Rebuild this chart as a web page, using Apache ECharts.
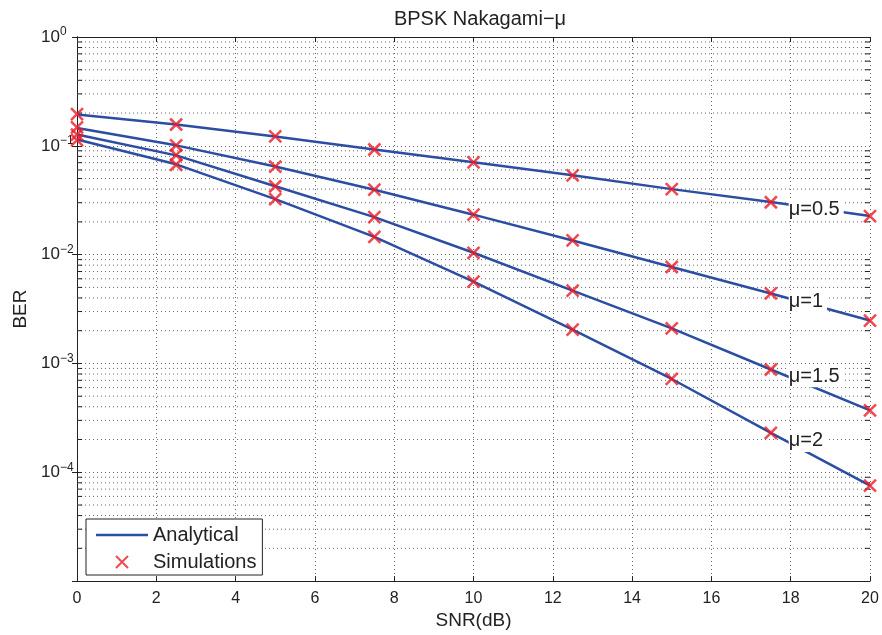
<!DOCTYPE html>
<html>
<head>
<meta charset="utf-8">
<script src="https://cdn.jsdelivr.net/npm/echarts@6/dist/echarts.min.js"></script>
<style>
  html, body { margin: 0; padding: 0; background: #fff; }
  #chart { width: 882px; height: 635px; }
</style>
</head>
<body>
<div id="chart"></div>
<script>
  // SNR points (dB)
  var snr = [0, 2.5, 5, 7.5, 10, 12.5, 15, 17.5, 20]

  // analytical BER curves
  var anaMu05 = [0.194, 0.157, 0.122, 0.0927, 0.0705, 0.0536, 0.0400, 0.0304, 0.0226]
  var anaMu1 = [0.146, 0.101, 0.0645, 0.0395, 0.0233, 0.0135, 0.0077, 0.0044, 0.00248]
  var anaMu15 = [0.127, 0.0817, 0.0425, 0.0221, 0.0104, 0.00467, 0.0021, 0.00088, 0.00037]
  var anaMu2 = [0.1145, 0.0676, 0.0324, 0.01455, 0.00564, 0.00205, 0.00072, 0.00023, 0.0000755]

  // simulated BER points
  var simMu05 = [0.196, 0.157, 0.122, 0.0925, 0.0705, 0.0535, 0.0400, 0.0303, 0.0226]
  var simMu1 = [0.148, 0.101, 0.0645, 0.0395, 0.0233, 0.0135, 0.0077, 0.0044, 0.00248]
  var simMu15 = [0.127, 0.0820, 0.0425, 0.0221, 0.0104, 0.00467, 0.0021, 0.00088, 0.00037]
  var simMu2 = [0.113, 0.0670, 0.0324, 0.01455, 0.00564, 0.00205, 0.00072, 0.00023, 0.0000755]

  var curveLabels = ['μ=0.5', 'μ=1', 'μ=1.5', 'μ=2']
  var labelPos = [[17.95, 0.0258], [17.95, 0.0037], [17.95, 0.000764], [17.95, 0.000194]]

  var decades = [0.00001, 0.0001, 0.001, 0.01, 0.1]
  var minorSteps = [2, 3, 4, 5, 6, 7, 8, 9]

  var blue = '#2c4ea2'
  var red = '#ee1c25'
  var txt = '#222'
  var font = '"Liberation Sans", Arial, sans-serif'

  var myChart = echarts.init(document.getElementById('chart'))

  function pairs(ys) {
    return snr.map(function(x, i) { return [x, ys[i]] })
  }

  // minor log grid + minor ticks on both sides (broken line series)
  var minorVals = []
  decades.forEach(function(d) {
    minorSteps.forEach(function(m) { minorVals.push(m * d) })
  })
  var gridData = []
  var tickData = []
  minorVals.forEach(function(v) {
    gridData.push([0, v], [20, v], '-')
    tickData.push([0, v], [0.13, v], '-', [19.87, v], [20, v], '-')
  })

  var anaData = [anaMu05, anaMu1, anaMu15, anaMu2]
  var simData = [simMu05, simMu1, simMu15, simMu2]

  var series = []
  series.push({
    type: 'line',
    data: gridData,
    silent: true,
    symbol: 'none',
    z: 1,
    connectNulls: false,
    lineStyle: { color: '#666', width: 1, type: [1, 3] }
  })
  series.push({
    type: 'line',
    data: tickData,
    silent: true,
    symbol: 'none',
    z: 1,
    connectNulls: false,
    lineStyle: { color: '#222', width: 1 }
  })

  anaData.forEach(function(d, i) {
    series.push({
      name: 'Analytical',
      type: 'line',
      symbol: 'none',
      z: 2,
      data: pairs(d),
      lineStyle: { color: blue, width: 2.5 },
      itemStyle: { color: blue },
      markPoint: {
        symbol: 'rect',
        symbolSize: 1,
        z: 6,
        itemStyle: { color: 'rgba(0,0,0,0)' },
        animation: false,
        label: {
          show: true,
          position: 'inside',
          align: 'left',
          verticalAlign: 'middle',
          formatter: curveLabels[i],
          fontFamily: font,
          fontSize: 20,
          color: txt,
          backgroundColor: '#fff',
          padding: [1, 4, 1, 0]
        },
        data: [{ coord: labelPos[i] }]
      }
    })
  })

  simData.forEach(function(d) {
    series.push({
      name: 'Simulations',
      type: 'scatter',
      symbol: 'path://M0,0L10,10M10,0L0,10',
      symbolSize: 12,
      z: 3,
      data: pairs(d),
      itemStyle: { color: 'rgba(0,0,0,0)', borderColor: red, borderWidth: 2.5 }
    })
  })

  var option = {
    animation: false,
    backgroundColor: '#fff',
    title: {
      text: 'BPSK Nakagami−μ',
      left: 475,
      textAlign: 'center',
      top: 4,
      textStyle: { fontFamily: font, fontSize: 20, fontWeight: 'normal', color: txt }
    },
    legend: {
      orient: 'vertical',
      left: 86,
      top: 519,
      data: [
        { name: 'Analytical', icon: 'path://M0,0L52,0L52,2.5L0,2.5Z', itemStyle: { color: blue } },
        { name: 'Simulations' }
      ],
      backgroundColor: '#fff',
      borderColor: '#222',
      borderWidth: 1,
      borderRadius: 0,
      padding: [5, 6, 2, 10],
      itemWidth: 52,
      itemHeight: 12,
      itemGap: 5,
      textStyle: { fontFamily: font, fontSize: 20, lineHeight: 22, color: txt }
    },
    grid: {
      left: 77,
      right: 12,
      top: 37,
      bottom: 51
    },
    xAxis: [{
      type: 'value',
      min: 0,
      max: 20,
      interval: 2,
      name: 'SNR(dB)',
      nameLocation: 'middle',
      nameGap: 28,
      nameTextStyle: { fontFamily: font, fontSize: 19, color: txt },
      axisLine: { lineStyle: { color: '#222', width: 1 } },
      axisTick: { inside: true, length: 5, lineStyle: { color: '#222' } },
      axisLabel: { margin: 9, fontFamily: font, fontSize: 16, color: txt },
      splitLine: { show: true, lineStyle: { color: '#666', width: 1, type: [1, 3] } }
    }, {
      type: 'value',
      position: 'top',
      min: 0,
      max: 20,
      interval: 2,
      axisLine: { lineStyle: { color: '#222', width: 1 } },
      axisTick: { inside: true, length: 5, lineStyle: { color: '#222' } },
      axisLabel: { show: false },
      splitLine: { show: false }
    }],
    yAxis: [{
      type: 'log',
      logBase: 10,
      min: 0.00001,
      max: 1,
      name: 'BER',
      nameLocation: 'middle',
      nameGap: 46,
      nameTextStyle: { fontFamily: font, fontSize: 19, color: txt },
      axisLine: { lineStyle: { color: '#222', width: 1 } },
      axisTick: { inside: true, length: 5, lineStyle: { color: '#222' } },
      axisLabel: {
        margin: 36,
        align: 'left',
        formatter: function(v) {
          var e = Math.round(Math.log10(v))
          if (e <= -5) return ''
          return '{b|10}{s|' + (e < 0 ? '−' + (-e) : e) + '}'
        },
        rich: {
          b: { fontFamily: font, fontSize: 17, color: txt, lineHeight: 22 },
          s: { fontFamily: font, fontSize: 12, color: txt, verticalAlign: 'top', lineHeight: 13 }
        }
      },
      splitLine: { show: true, lineStyle: { color: '#666', width: 1, type: [1, 3] } }
    }, {
      type: 'log',
      logBase: 10,
      position: 'right',
      min: 0.00001,
      max: 1,
      axisLine: { lineStyle: { color: '#222', width: 1 } },
      axisTick: { inside: true, length: 5, lineStyle: { color: '#222' } },
      axisLabel: { show: false },
      splitLine: { show: false }
    }],
    series: series
  }

  myChart.setOption(option)
</script>
</body>
</html>
